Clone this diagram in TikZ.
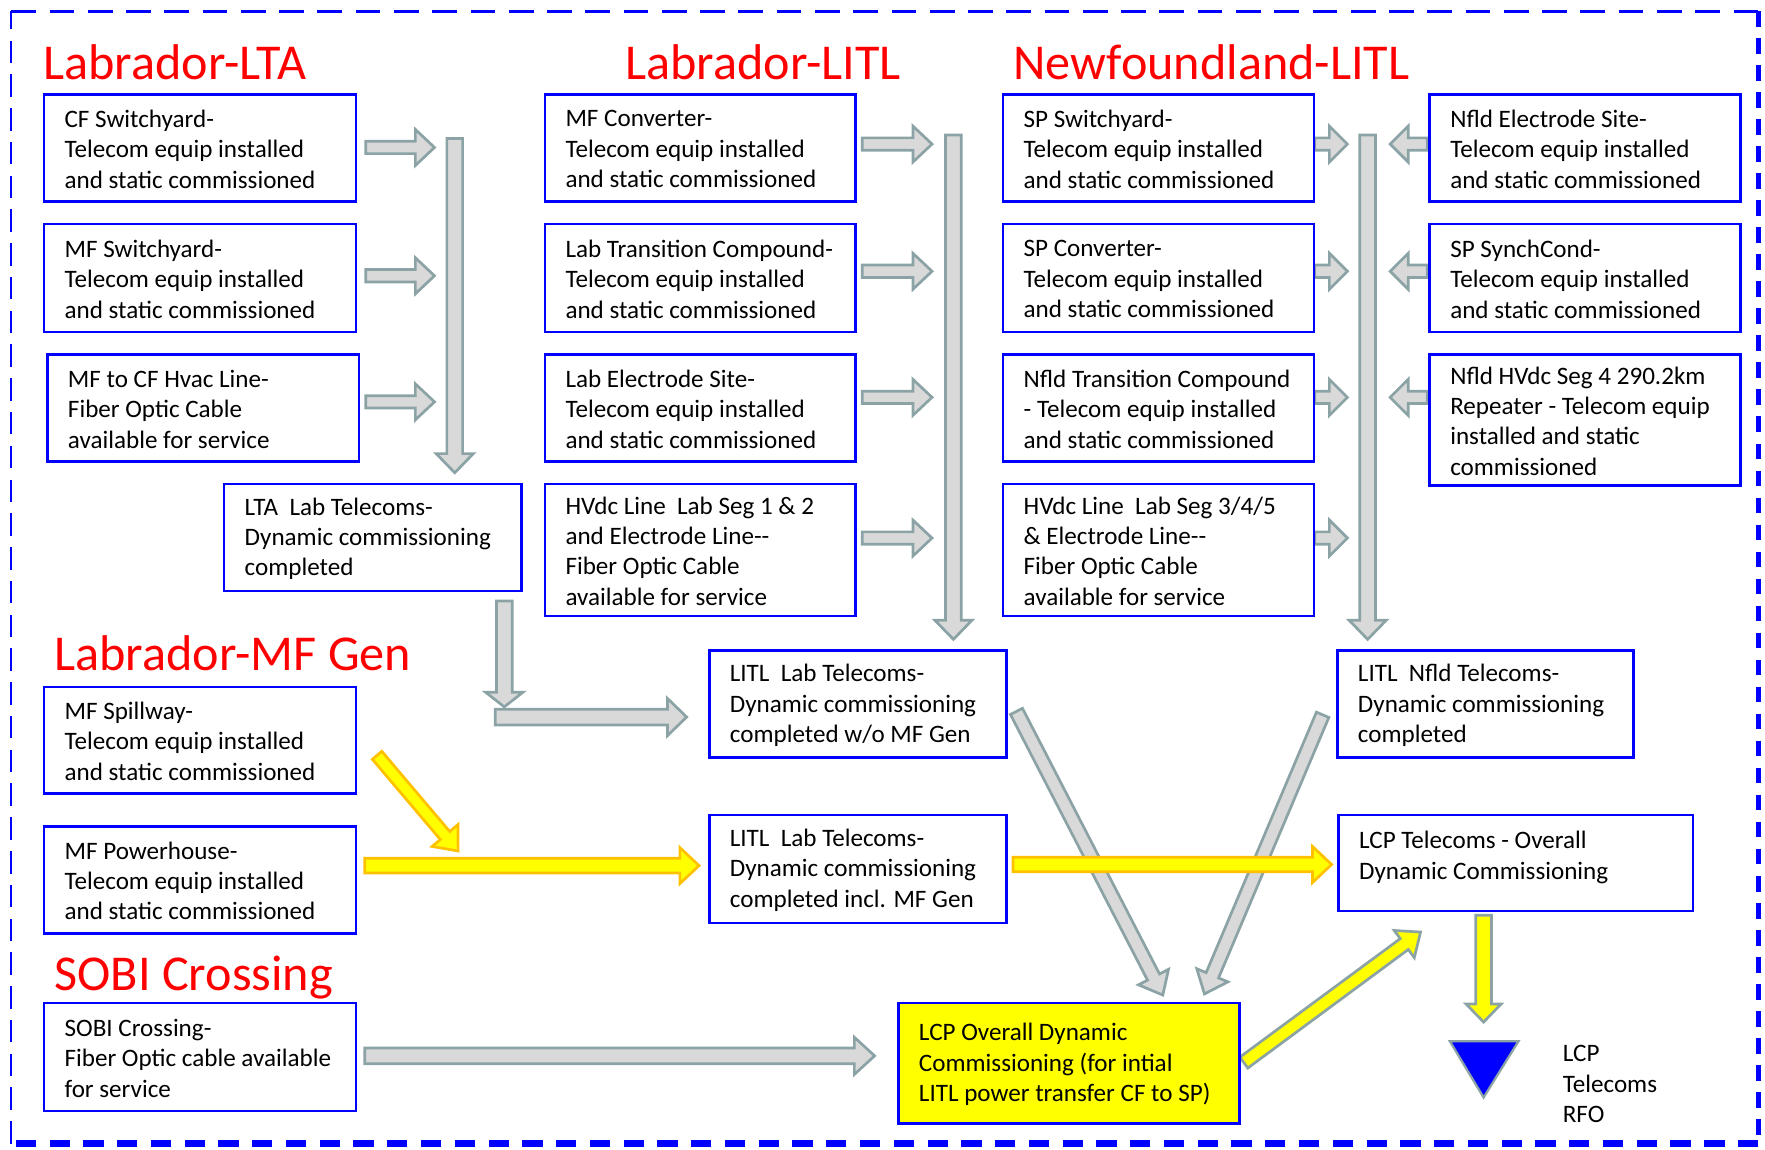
\documentclass[tikz,border=0pt]{standalone}
\usepackage{fontspec}
\setmainfont{Carlito}
\usetikzlibrary{calc}
\definecolor{gfill}{RGB}{217,217,217}
\definecolor{gline}{RGB}{140,163,166}
\definecolor{orng}{RGB}{255,192,0}
\definecolor{ttl}{RGB}{255,0,0}
\definecolor{bblue}{RGB}{0,0,255}
\definecolor{yfill}{RGB}{255,255,0}
\newcommand\tei{Telecom equip installed\\and static commissioned}
\newcommand\bx[7][white]{%
 \pgfmathsetmacro\bxw{(#5-#3)*0.5}%
 \pgfmathsetmacro\bxh{(#6-#4)*0.5}%
 \node[frame,fill=#1,minimum width=\bxw pt,minimum height=\bxh pt,anchor=north west] (#2) at (#3,#4) {};
 \node[btxt] (#2-t) at ($(#2.west)+(19,1)$) {#7};}
\newcommand\barrow[6]{%
 \coordinate (bxn) at ($#3!#6*0.5pt!#2$);
 \path[#1] ($#2!#4*0.5pt!90:#3$) -- ($(bxn)!#4*0.5pt!90:#3$) -- ($(bxn)!#5*0.5pt!90:#3$) -- #3 -- ($(bxn)!#5*0.5pt!-90:#3$) -- ($(bxn)!#4*0.5pt!-90:#3$) -- ($#2!#4*0.5pt!-90:#3$) -- cycle;}
\begin{document}
\begin{tikzpicture}[x=0.5pt,y=-0.5pt,
 frame/.style={draw=bblue,line width=1.1pt,inner sep=0pt},
 btxt/.style={anchor=west,align=left,inner sep=0pt,font=\fontsize{11.15}{13.5}\selectfont},
 hd/.style={text=ttl,font=\fontsize{22.3}{26}\selectfont,anchor=base west,inner sep=0pt},
 garrow/.style={fill=gfill,draw=gline,line width=1.2pt,line join=miter},
 yarrow/.style={fill=yfill,draw=orng,line width=1.2pt,line join=miter},
 ygarrow/.style={fill=yfill,draw=gline,line width=1.2pt,line join=miter},
 bord/.style={draw=bblue,line cap=butt}]
\useasboundingbox (0,0) rectangle (1568,1021);
% border
\draw[bord,line width=0.9pt,dash pattern=on 10pt off 5pt] (10,1016) -- (10,10);
\draw[bord,line width=1.4pt,dash pattern=on 11pt off 6pt] (10,10) -- (1562,10);
\draw[bord,line width=2.4pt,dash pattern=on 7pt off 5pt] (1562,10) -- (1562,1016);
\draw[bord,line width=3pt,dash pattern=on 9pt off 6pt] (1562,1016) -- (10,1016);
% headings
\node[hd] (h1) at (38,71) {Labrador-LTA};
\node[hd] (h2) at (555,71) {Labrador-LITL};
\node[hd] (h3) at (900,71) {Newfoundland-LITL};
\node[hd] (h4) at (48,596) {Labrador-MF Gen};
\node[hd] (h5) at (48,880) {SOBI Crossing};
% gray arrows (behind boxes)
\foreach \n/\y in {a/131,b/245,c/357}{
 \coordinate (l\n s) at (325,\y); \coordinate (l\n e) at (386,\y);
 \barrow{garrow}{(l\n s)}{(l\n e)}{5.5}{16}{17}}
\foreach \n/\y in {a/128,b/241,c/353,d/478}{
 \coordinate (m\n s) at (766,\y); \coordinate (m\n e) at (828,\y);
 \barrow{garrow}{(m\n s)}{(m\n e)}{5.5}{16}{17}
 \coordinate (n\n s) at (1168,\y); \coordinate (n\n e) at (1197,\y);
 \barrow{garrow}{(n\n s)}{(n\n e)}{5.5}{16}{16}}
\foreach \n/\y in {a/128,b/241,c/353}{
 \coordinate (r\n s) at (1268,\y); \coordinate (r\n e) at (1235,\y);
 \barrow{garrow}{(r\n s)}{(r\n e)}{5.5}{16}{16}}
\coordinate (bar1s) at (404,123); \coordinate (bar1e) at (404,420);
\barrow{garrow}{(bar1s)}{(bar1e)}{7}{16.5}{17}
\coordinate (bar2s) at (847,120); \coordinate (bar2e) at (847,568);
\barrow{garrow}{(bar2s)}{(bar2e)}{7}{16.5}{17}
\coordinate (bar3s) at (1215,120); \coordinate (bar3e) at (1215,568);
\barrow{garrow}{(bar3s)}{(bar3e)}{7}{16.5}{17}
\coordinate (ltas) at (448,534); \coordinate (ltae) at (448,628);
\barrow{garrow}{(ltas)}{(ltae)}{7}{16.5}{13}
\coordinate (lths) at (440,637); \coordinate (lthe) at (610,637);
\barrow{garrow}{(lths)}{(lthe)}{7}{16.5}{17}
\coordinate (d1s) at (903,632); \coordinate (d1e) at (1033,884);
\barrow{garrow}{(d1s)}{(d1e)}{6}{15}{18}
\coordinate (d2s) at (1175,635); \coordinate (d2e) at (1070,883);
\barrow{garrow}{(d2s)}{(d2e)}{6}{15}{18}
\coordinate (sobs) at (324,938); \coordinate (sobe) at (777,938);
\barrow{garrow}{(sobs)}{(sobe)}{7}{16.5}{18}
% yellow arrows
\coordinate (y1s) at (335,671); \coordinate (y1e) at (407,756);
\barrow{yarrow}{(y1s)}{(y1e)}{5.5}{15}{18}
\coordinate (y2s) at (324,769); \coordinate (y2e) at (621,769);
\barrow{yarrow}{(y2s)}{(y2e)}{6.5}{16}{17}
\coordinate (y3s) at (900,768); \coordinate (y3e) at (1183,768);
\barrow{yarrow}{(y3s)}{(y3e)}{6.5}{16}{17}
\coordinate (y4s) at (1105,944); \coordinate (y4e) at (1262,828);
\barrow{ygarrow}{(y4s)}{(y4e)}{6}{15}{18}
\coordinate (y5s) at (1318,813); \coordinate (y5e) at (1318,908);
\barrow{ygarrow}{(y5s)}{(y5e)}{7}{15.5}{16}
% boxes
\bx{cf}{38}{83}{315}{178}{CF Switchyard-\\\tei}
\bx{mfs}{38}{198}{315}{294}{MF Switchyard-\\\tei}
\bx{hvac}{41}{314}{318}{409}{MF to CF Hvac Line-\\Fiber Optic Cable\\available for service}
\bx{lta}{198}{429}{462}{524}{LTA~ Lab Telecoms-\\Dynamic commissioning\\completed}
\bx{mfc}{483}{83}{759}{178}{MF Converter-\\\tei}
\bx{ltc}{483}{198}{759}{294}{Lab Transition Compound-\\\tei}
\bx{les}{483}{314}{759}{409}{Lab Electrode Site-\\\tei}
\bx{hva}{483}{429}{759}{546}{HVdc Line~ Lab Seg 1 \& 2\\and Electrode Line-{}-\\Fiber Optic Cable\\available for service}
\bx{sps}{890}{83}{1166}{178}{SP Switchyard-\\\tei}
\bx{spc}{890}{198}{1166}{294}{SP Converter-\\\tei}
\bx{ntc}{890}{314}{1166}{409}{Nfld Transition Compound\\- Telecom equip installed\\and static commissioned}
\bx{hvb}{890}{429}{1166}{546}{HVdc Line~ Lab Seg 3/4/5\\\& Electrode Line-{}-\\Fiber Optic Cable\\available for service}
\bx{nes}{1269}{83}{1545}{178}{Nfld Electrode Site-\\\tei}
\bx{syn}{1269}{198}{1545}{294}{SP SynchCond-\\\tei}
\bx{rep}{1269}{314}{1545}{430}{Nfld HVdc Seg 4 290.2km\\Repeater - Telecom equip\\installed and static\\commissioned}
\bx{litla}{629}{577}{893}{672}{LITL~ Lab Telecoms-\\Dynamic commissioning\\completed w/o MF Gen}
\bx{litlb}{629}{723}{893}{819}{LITL~ Lab Telecoms-\\Dynamic commissioning\\completed incl. MF Gen}
\bx{litln}{1187}{577}{1450}{672}{LITL~ Nfld Telecoms-\\Dynamic commissioning\\completed}
\node[frame,minimum width=157.5pt,minimum height=42.5pt,anchor=north west] (lcpt) at (1188,723) {};
\node[btxt] (lcpt-t) at ($(lcpt.west)+(19,-5)$) {LCP Telecoms - Overall\\Dynamic Commissioning};
\bx{mfsp}{38}{609}{315}{704}{MF Spillway-\\\tei}
\bx{mfph}{38}{733}{315}{828}{MF Powerhouse-\\\tei}
\bx{sobi}{38}{890}{315}{986}{SOBI Crossing-\\Fiber Optic cable available\\for service}
\bx[yfill]{lcp}{797}{890}{1100}{997}{LCP Overall Dynamic\\Commissioning (for intial\\LITL power transfer CF to SP)}
% RFO
\draw[fill=bblue,draw=gline,line width=1pt,line join=miter] (1288,925) -- (1349,925) -- (1318,975) -- cycle;
\node[btxt] (rfo) at (1388,963) {LCP\\Telecoms\\RFO};
\end{tikzpicture}
\end{document}
